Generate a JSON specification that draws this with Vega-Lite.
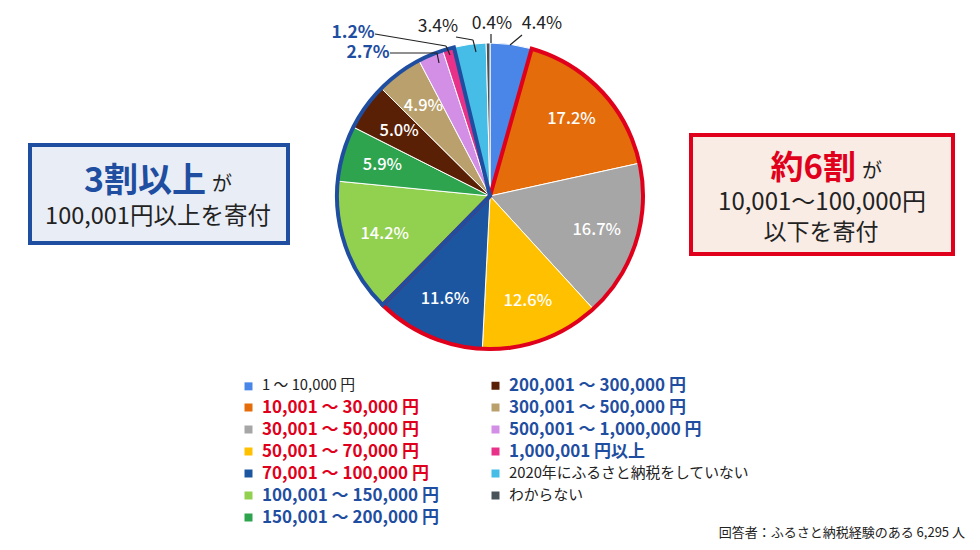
{
  "$schema": "https://vega.github.io/schema/vega-lite/v6.json",
  "width": 980,
  "height": 550,
  "autosize": {"type": "fit", "contains": "padding"},
  "padding": 0,
  "background": "white",
  "config": {
    "view": {"stroke": null},
    "font": "Noto Sans CJK JP",
    "text": {"font": "Noto Sans CJK JP"}
  },
  "data": {
    "values": [
      {"idx": 1, "cat": "1 ～ 10,000 円", "share": 0.044, "grp": "1万円以下"},
      {"idx": 2, "cat": "10,001 ～ 30,000 円", "share": 0.172, "grp": "約6割"},
      {"idx": 3, "cat": "30,001 ～ 50,000 円", "share": 0.167, "grp": "約6割"},
      {"idx": 4, "cat": "50,001 ～ 70,000 円", "share": 0.126, "grp": "約6割"},
      {"idx": 5, "cat": "70,001 ～ 100,000 円", "share": 0.116, "grp": "約6割"},
      {"idx": 6, "cat": "100,001 ～ 150,000 円", "share": 0.142, "grp": "3割以上"},
      {"idx": 7, "cat": "150,001 ～ 200,000 円", "share": 0.059, "grp": "3割以上"},
      {"idx": 8, "cat": "200,001 ～ 300,000 円", "share": 0.05, "grp": "3割以上"},
      {"idx": 9, "cat": "300,001 ～ 500,000 円", "share": 0.049, "grp": "3割以上"},
      {"idx": 10, "cat": "500,001 ～ 1,000,000 円", "share": 0.027, "grp": "3割以上"},
      {"idx": 11, "cat": "1,000,001 円以上", "share": 0.012, "grp": "3割以上"},
      {"idx": 12, "cat": "2020年にふるさと納税をしていない", "share": 0.034, "grp": "その他"},
      {"idx": 13, "cat": "わからない", "share": 0.004, "grp": "その他"}
    ]
  },
  "layer": [
    {
      "mark": {"type": "arc", "outerRadius": 153, "stroke": "white", "strokeWidth": 1},
      "encoding": {
        "x": {"value": 490},
        "y": {"value": 196},
        "theta": {"field": "share", "type": "quantitative", "stack": true},
        "order": {"field": "idx", "type": "quantitative"},
        "color": {
          "field": "cat",
          "type": "nominal",
          "scale": {
            "domain": [
              "1 ～ 10,000 円",
              "10,001 ～ 30,000 円",
              "30,001 ～ 50,000 円",
              "50,001 ～ 70,000 円",
              "70,001 ～ 100,000 円",
              "100,001 ～ 150,000 円",
              "150,001 ～ 200,000 円",
              "200,001 ～ 300,000 円",
              "300,001 ～ 500,000 円",
              "500,001 ～ 1,000,000 円",
              "1,000,001 円以上",
              "2020年にふるさと納税をしていない",
              "わからない"
            ],
            "range": [
              "#4a86e8", "#e46c0a", "#a6a6a6", "#ffc000", "#1c56a0", "#92d050", "#2ea44f",
              "#5a2005", "#b9a06c", "#d38ee6", "#e8328a", "#45bde6", "#48545a"
            ]
          },
          "legend": {
            "orient": "none",
            "legendX": 240,
            "legendY": 377,
            "columns": 2,
            "title": null,
            "padding": 0,
            "symbolType": "square",
            "symbolSize": 64,
            "symbolStrokeWidth": 0,
            "symbolLimit": 20,
            "labelFont": "Noto Sans CJK JP",
            "labelFontSize": {"expr": "(datum.value == '1 ～ 10,000 円' || datum.value == '2020年にふるさと納税をしていない' || datum.value == 'わからない') ? 14.8 : 17"},
            "labelFontWeight": {"expr": "(datum.value == '1 ～ 10,000 円' || datum.value == '2020年にふるさと納税をしていない' || datum.value == 'わからない') ? 'normal' : 'bold'"},
            "labelColor": {"expr": "(datum.value == '1 ～ 10,000 円' || datum.value == '2020年にふるさと納税をしていない' || datum.value == 'わからない') ? '#222222' : (indexof(['10,001 ～ 30,000 円', '30,001 ～ 50,000 円', '50,001 ～ 70,000 円', '70,001 ～ 100,000 円'], datum.value) >= 0 ? '#e0001b' : '#1f4ea1')"},
            "labelLimit": 400,
            "labelOffset": 5,
            "rowPadding": 4,
            "columnPadding": 48
          }
        }
      }
    },
    {
      "mark": {"type": "text", "radius": 112, "fontSize": 16.5, "fontWeight": 500, "fill": "white", "align": "center", "baseline": "middle"},
      "encoding": {
        "x": {"value": 490},
        "y": {"value": 196},
        "theta": {"field": "share", "type": "quantitative", "stack": true},
        "order": {"field": "idx", "type": "quantitative"},
        "detail": {"field": "cat", "type": "nominal"},
        "text": {
          "condition": {"test": "datum.idx < 2 || datum.idx > 9", "value": ""},
          "field": "share", "type": "quantitative", "format": ".1%"
        }
      }
    },
    {
      "transform": [
        {"aggregate": [{"op": "sum", "field": "share", "as": "share"}, {"op": "min", "field": "idx", "as": "idx"}], "groupby": ["grp"]}
      ],
      "mark": {"type": "arc", "outerRadius": 153, "fillOpacity": 0, "strokeWidth": 4, "strokeJoin": "miter"},
      "encoding": {
        "x": {"value": 490},
        "y": {"value": 196},
        "theta": {"field": "share", "type": "quantitative", "stack": true},
        "order": {"field": "idx", "type": "quantitative"},
        "stroke": {
          "field": "grp",
          "type": "nominal",
          "scale": {"domain": ["1万円以下", "約6割", "3割以上", "その他"], "range": ["transparent", "#e0001b", "#1f4ea1", "transparent"]},
          "legend": null
        }
      }
    },
    {
      "transform": [{"filter": "datum.idx == 1"}],
      "mark": {"type": "text", "x": 542, "y": 24, "fontSize": 17.5, "fill": "#222222", "align": "center", "baseline": "middle"},
      "encoding": {"text": {"field": "share", "type": "quantitative", "format": ".1%"}}
    },
    {
      "transform": [{"filter": "datum.idx == 13"}],
      "mark": {"type": "text", "x": 492, "y": 24, "fontSize": 17.5, "fill": "#222222", "align": "center", "baseline": "middle"},
      "encoding": {"text": {"field": "share", "type": "quantitative", "format": ".1%"}}
    },
    {
      "transform": [{"filter": "datum.idx == 12"}],
      "mark": {"type": "text", "x": 438, "y": 27, "fontSize": 17.5, "fill": "#222222", "align": "center", "baseline": "middle"},
      "encoding": {"text": {"field": "share", "type": "quantitative", "format": ".1%"}}
    },
    {
      "transform": [{"filter": "datum.idx == 11"}],
      "mark": {"type": "text", "x": 353, "y": 33, "fontSize": 17.5, "fontWeight": "bold", "fill": "#1f4ea1", "align": "center", "baseline": "middle"},
      "encoding": {"text": {"field": "share", "type": "quantitative", "format": ".1%"}}
    },
    {
      "transform": [{"filter": "datum.idx == 10"}],
      "mark": {"type": "text", "x": 368, "y": 53, "fontSize": 17.5, "fontWeight": "bold", "fill": "#1f4ea1", "align": "center", "baseline": "middle"},
      "encoding": {"text": {"field": "share", "type": "quantitative", "format": ".1%"}}
    },
    {
      "data": {"values": [{}]},
      "mark": {"type": "rule", "stroke": "#222222", "strokeWidth": 1.2},
      "encoding": {"x": {"value": 522}, "y": {"value": 35}, "x2": {"value": 510}, "y2": {"value": 45}}
    },
    {
      "data": {"values": [{}]},
      "mark": {"type": "rule", "stroke": "#222222", "strokeWidth": 1.2},
      "encoding": {"x": {"value": 491}, "y": {"value": 34}, "x2": {"value": 491}, "y2": {"value": 43}}
    },
    {
      "data": {"values": [{}]},
      "mark": {"type": "rule", "stroke": "#222222", "strokeWidth": 1.2},
      "encoding": {"x": {"value": 456}, "y": {"value": 37}, "x2": {"value": 473}, "y2": {"value": 40}}
    },
    {
      "data": {"values": [{}]},
      "mark": {"type": "rule", "stroke": "#222222", "strokeWidth": 1.2},
      "encoding": {"x": {"value": 473}, "y": {"value": 40}, "x2": {"value": 476}, "y2": {"value": 52}}
    },
    {
      "data": {"values": [{}]},
      "mark": {"type": "rule", "stroke": "#222222", "strokeWidth": 1.2},
      "encoding": {"x": {"value": 375}, "y": {"value": 34}, "x2": {"value": 446}, "y2": {"value": 46}}
    },
    {
      "data": {"values": [{}]},
      "mark": {"type": "rule", "stroke": "#222222", "strokeWidth": 1.2},
      "encoding": {"x": {"value": 446}, "y": {"value": 46}, "x2": {"value": 450}, "y2": {"value": 55}}
    },
    {
      "data": {"values": [{}]},
      "mark": {"type": "rule", "stroke": "#222222", "strokeWidth": 1.2},
      "encoding": {"x": {"value": 390}, "y": {"value": 53}, "x2": {"value": 437}, "y2": {"value": 53}}
    },
    {
      "data": {"values": [{}]},
      "mark": {"type": "rule", "stroke": "#222222", "strokeWidth": 1.2},
      "encoding": {"x": {"value": 437}, "y": {"value": 53}, "x2": {"value": 439}, "y2": {"value": 63}}
    },
    {
      "data": {"values": [{}]},
      "mark": {"type": "rect", "fill": "#e9edf5", "stroke": "#1f4ea1", "strokeWidth": 4},
      "encoding": {"x": {"value": 30}, "y": {"value": 145}, "x2": {"value": 288}, "y2": {"value": 243}}
    },
    {
      "data": {"values": [{}]},
      "mark": {"type": "rect", "fill": "#f8ece5", "stroke": "#e0001b", "strokeWidth": 4},
      "encoding": {"x": {"value": 691}, "y": {"value": 135}, "x2": {"value": 953}, "y2": {"value": 254}}
    },
    {
      "data": {"values": [{"t": "3割以上"}]},
      "mark": {"type": "text", "x": 206, "y": 192, "fontSize": 34, "fontWeight": "bold", "fill": "#1f4ea1", "align": "right", "baseline": "alphabetic"},
      "encoding": {"text": {"field": "t"}}
    },
    {
      "data": {"values": [{"t": "が"}]},
      "mark": {"type": "text", "x": 212, "y": 191, "fontSize": 20, "fill": "#222222", "align": "left", "baseline": "alphabetic"},
      "encoding": {"text": {"field": "t"}}
    },
    {
      "data": {"values": [{"t": "100,001円以上を寄付"}]},
      "mark": {"type": "text", "x": 158, "y": 224, "fontSize": 23.5, "fill": "#222222", "align": "center", "baseline": "alphabetic"},
      "encoding": {"text": {"field": "t"}}
    },
    {
      "data": {"values": [{"t": "約6割"}]},
      "mark": {"type": "text", "x": 856, "y": 179, "fontSize": 33, "fontWeight": "bold", "fill": "#e0001b", "align": "right", "baseline": "alphabetic"},
      "encoding": {"text": {"field": "t"}}
    },
    {
      "data": {"values": [{"t": "が"}]},
      "mark": {"type": "text", "x": 862, "y": 178, "fontSize": 20, "fill": "#222222", "align": "left", "baseline": "alphabetic"},
      "encoding": {"text": {"field": "t"}}
    },
    {
      "data": {"values": [{"t": "10,001～100,000円"}]},
      "mark": {"type": "text", "x": 822, "y": 210, "fontSize": 24, "fill": "#222222", "align": "center", "baseline": "alphabetic"},
      "encoding": {"text": {"field": "t"}}
    },
    {
      "data": {"values": [{"t": "以下を寄付"}]},
      "mark": {"type": "text", "x": 821, "y": 240, "fontSize": 23, "fill": "#222222", "align": "center", "baseline": "alphabetic"},
      "encoding": {"text": {"field": "t"}}
    },
    {
      "data": {"values": [{"t": "回答者：ふるさと納税経験のある 6,295 人"}]},
      "mark": {"type": "text", "x": 965, "y": 533, "fontSize": 13, "fill": "#222222", "align": "right", "baseline": "middle"},
      "encoding": {"text": {"field": "t"}}
    }
  ]
}
